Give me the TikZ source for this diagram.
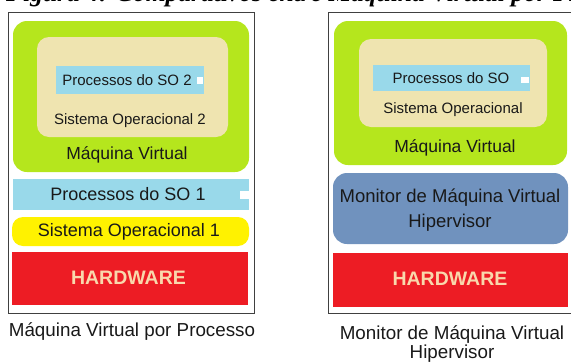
\documentclass[tikz,border=0pt]{standalone}
\usepackage{fontspec}
\setmainfont{Liberation Sans}
\newfontfamily\titlefont{Liberation Serif}
\definecolor{lime}{HTML}{B5E61D}
\definecolor{tan}{HTML}{EFE4B0}
\definecolor{turq}{HTML}{99D9EA}
\definecolor{yel}{HTML}{FFF200}
\definecolor{hwred}{HTML}{ED1C24}
\definecolor{bluegray}{HTML}{7092BE}
\definecolor{peach}{HTML}{F9D8AC}
\definecolor{framegray}{HTML}{404040}
\newcommand{\fs}[1]{\fontsize{#1}{#1}\selectfont}
\begin{document}
\begin{tikzpicture}[x=1pt,y=-1pt,
  frm/.style={draw=framegray, line width=0.8pt},
  lbl/.style={inner sep=0pt, text=black!90}
]
\useasboundingbox (0,0) rectangle (571,362);
\clip (0,0) rectangle (571,362);
% title (cut off at the top, as in the reference)
\node[anchor=base west, inner sep=0pt, font=\titlefont\bfseries\itshape\fs{25.5}] (title) at (6,1.5) {Figura 4: Comparativos entre Máquina Virtual por Processo e Hipervisor};

% ---------- left panel ----------
\draw[frm] (8,12) rectangle (254,313);
\path[fill=lime, rounded corners=14pt] (13,21) rectangle (249,172);
\path[fill=tan, rounded corners=12pt] (37,37) rectangle (228,137);
\path[fill=turq] (56,66) rectangle (204,94);
\path[fill=white] (197,77) rectangle (203,84);
\node[lbl, font=\fs{15}] (p2) at (127,80) {Processos do SO 2};
\node[lbl, font=\fs{15}] (so2) at (130,121) {Sistema Operacional 2};
\node[lbl, font=\fs{17.5}] (vmL) at (127,155) {Máquina Virtual};
\path[fill=turq] (13,179) rectangle (249,210);
\path[fill=white] (240,191) rectangle (250,199);
\node[lbl, font=\fs{18}] (p1) at (128,194.5) {Processos do SO 1};
\path[fill=yel, rounded corners=11pt] (12,217) rectangle (249,246);
\node[lbl, font=\fs{18}] (so1) at (129,231.5) {Sistema Operacional 1};
\path[fill=hwred] (12,252) rectangle (248,305);
\node[lbl, text=peach, font=\bfseries\fs{19.5}] (hwL) at (128.5,278) {HARDWARE};
\node[lbl, font=\fs{18.8}] (capL) at (132,332) {Máquina Virtual por Processo};

% ---------- right panel ----------
\draw[frm] (328,12) rectangle (575,313);
\path[fill=lime, rounded corners=14pt] (334,21) rectangle (567,165);
\path[fill=tan, rounded corners=12pt] (359,39) rectangle (547,127);
\path[fill=turq] (373,65) rectangle (530,91);
\path[fill=white] (521,77) rectangle (529,82.5);
\node[lbl, font=\fs{15}] (pR) at (451,78) {Processos do SO};
\node[lbl, font=\fs{15}] (soR) at (453,110) {Sistema Operacional};
\node[lbl, font=\fs{17.5}] (vmR) at (455,148) {Máquina Virtual};
\path[fill=bluegray, rounded corners=14pt] (333,173) rectangle (568,244);
\node[lbl, font=\fs{18.5}, align=center] (mon) at (450,210) {Monitor de Máquina Virtual\\[7pt]Hipervisor};
\path[fill=hwred] (333,253) rectangle (568,307);
\node[lbl, text=peach, font=\bfseries\fs{19.5}] (hwR) at (450,279) {HARDWARE};
\node[lbl, font=\fs{18.8}, align=center] (capR) at (452,344) {Monitor de Máquina Virtual\\[0pt]Hipervisor};
\end{tikzpicture}
\end{document}
